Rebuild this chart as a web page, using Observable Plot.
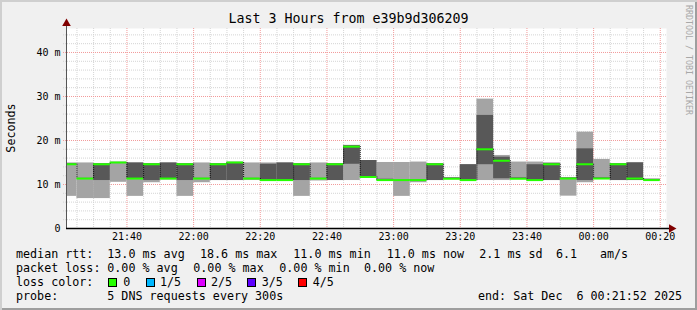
<!DOCTYPE html>
<html><head><meta charset="utf-8">
<script src="https://cdn.jsdelivr.net/npm/d3@7"></script>
<script src="https://cdn.jsdelivr.net/npm/@observablehq/plot@0.6"></script>
<style>
body{margin:0;background:#fff;}
#chart{position:relative;width:697px;height:310px;background:#f0f0f0;box-shadow:inset 2px 2px 0 #cfcfcf, inset -2px -2px 0 #9e9e9e;font-family:"DejaVu Sans Mono",monospace;color:#000;overflow:hidden;}
.t{position:absolute;white-space:pre;font-size:11.7px;line-height:14px;}
.box{position:absolute;width:7px;height:7px;border:1px solid #000;}
#plot{position:absolute;left:0;top:0;}
#title{position:absolute;left:0;width:697px;top:11px;text-align:center;font-size:13.3px;line-height:16px;white-space:pre;}
#ylab{position:absolute;left:10.5px;top:128px;transform:translate(-50%,-50%) rotate(-90deg);font-size:11.7px;white-space:pre;}
#side{position:absolute;left:684px;top:5px;writing-mode:vertical-rl;font-size:8.3px;color:#a8a8a8;white-space:pre;letter-spacing:0px;}
</style></head>
<body>
<div id="chart">
  <div id="plot"></div>
  <div id="title"></div>
  <div id="ylab"></div>
  <div id="side"></div>
</div>
<script>
// ---- data ----
const titleText = "Last 3 Hours from e39b9d306209";
const yLabel = "Seconds";
const sideText = "RRDTOOL / TOBI OETIKER";
const rangeStart = "2025-12-05T21:21:52Z";
const rangeEnd = "2025-12-06T00:21:52Z";
const slotMinutes = 5;
const slotStart = ["21:20","21:25","21:30","21:35","21:40","21:45","21:50","21:55",
  "22:00","22:05","22:10","22:15","22:20","22:25","22:30","22:35","22:40","22:45","22:50","22:55",
  "23:00","23:05","23:10","23:15","23:20","23:25","23:30","23:35","23:40","23:45","23:50","23:55",
  "00:00","00:05","00:10","00:15"];
// sorted ping rtts (ms) per slot: lowest, 2nd, median, 4th, highest
const ping1  = [7.3,6.8,6.8,10.5,7.3,10.4,11.0,7.3,10.4,10.9,10.9,10.9,10.8,10.8,7.3,10.8,10.9,10.9,11.6,10.9,7.3,10.4,10.9,11.1,10.9,10.9,10.9,11.2,10.8,10.9,7.35,10.4,11.2,10.9,10.9,10.9];
const ping2  = [14.5,11.3,10.9,14.9,11.2,10.9,11.2,10.9,11.3,10.9,10.9,11.3,10.9,10.9,10.9,11.3,10.9,14.6,11.65,10.95,10.95,10.9,10.9,11.2,10.95,14.5,11.3,11.25,10.9,10.9,11.2,10.9,11.3,10.9,10.9,10.95];
const median = [14.6,11.35,14.6,15.0,11.35,14.6,11.35,14.6,11.35,14.6,15.0,11.35,11.0,11.0,14.6,11.35,14.6,18.6,11.7,11.0,11.0,11.0,14.6,11.3,11.0,18.0,15.4,11.3,11.0,14.6,11.35,14.6,11.35,14.6,11.35,11.0];
const ping4  = [14.7,11.4,14.7,15.0,14.9,14.7,14.9,14.7,11.4,14.7,15.0,11.4,14.6,14.9,14.7,11.4,14.7,18.8,15.45,11.2,11.05,11.05,14.7,11.5,14.5,25.7,16.2,11.5,14.5,14.8,11.5,18.1,11.5,14.7,14.9,11.2];
const ping5  = [14.9,14.9,14.7,15.1,14.9,14.7,14.9,14.7,14.9,14.7,15.1,14.9,14.9,14.9,14.7,14.9,14.7,18.9,15.45,15.0,15.0,15.1,14.7,11.5,14.5,29.4,16.6,15.1,15.1,14.9,11.5,21.9,15.7,14.7,15.0,11.2];
const yTickValues = [0,10,20,30,40];
const yTop = 45.45;
const lossLabels = ["0","1/5","2/5","3/5","4/5"];
const lossColors = ["#26ff00","#00b8ff","#dd00ff","#5e00ff","#ff0000"];
const legendLines = [
  [["median rtt:",16],["13.0 ms avg",107.3],["18.6 ms max",200],["11.0 ms min",293.3],["11.0 ms now",386.7],["2.1 ms sd",479.3],["6.1",556],["am/s",600]],
  [["packet loss:",16],["0.00 % avg",107.3],["0.00 % max",193.3],["0.00 % min",279.3],["0.00 % now",364]],
  [["loss color:",16]],
  [["probe:",16],["5 DNS requests every 300s",107.3],["end: Sat Dec  6 00:21:52 2025",478]]
];
const lossBoxX = [108.3,145.7,196.7,247.3,298.3];
const lossTextX = [123.3,160,211,261.7,312.7];
const lineCenters = [254.3,268.3,282,296];

// ---- build ----
const t0 = new Date(rangeStart), t1 = new Date(rangeEnd);
function slotDate(s){
  const [h,m] = s.split(":").map(Number);
  const day = h < 12 ? "2025-12-06" : "2025-12-05";
  return new Date(`${day}T${s}:00Z`);
}
const bars = slotStart.map((s,i) => {
  const a = slotDate(s);
  const b = new Date(+a + slotMinutes*60000);
  return {x1: a < t0 ? t0 : a, x2: b > t1 ? t1 : b, p1: ping1[i], p2: ping2[i], med: median[i], p4: ping4[i], p5: ping5[i]};
});
const steps = [];
for (let i = 0; i < bars.length - 1; i++) steps.push({x: bars[i].x2, a: bars[i].med, b: bars[i+1].med});

const xMajor = d3.utcMinute.every(20).range(t0, t1);
const xMinor = d3.utcMinute.every(5).range(t0, t1).filter(d => d.getUTCMinutes() % 20 !== 0);
const yMajor = d3.range(10, yTop, 10);
const yMinor = d3.range(2, yTop, 2).filter(v => v % 10 !== 0);

const chart = Plot.plot({
  width: 697, height: 245,
  marginLeft: 66, marginRight: 31, marginTop: 28, marginBottom: 17,
  style: {background: "transparent", fontFamily: "DejaVu Sans Mono", fontSize: "10px", color: "#000", overflow: "visible"},
  x: {type: "utc", domain: [t0, t1]},
  y: {domain: [0, yTop]},
  marks: [
    Plot.frame({fill: "#fff", stroke: null}),
    Plot.ruleY(yMinor, {stroke: "#d4d4d4", strokeDasharray: "1,1", insetLeft: -3}),
    Plot.ruleX(xMinor, {stroke: "#d4d4d4", strokeDasharray: "1,1"}),
    Plot.ruleY(yMajor, {stroke: "#f29a9a", strokeDasharray: "1,1", insetLeft: -3}),
    Plot.ruleX(xMajor, {stroke: "#f29a9a", strokeDasharray: "1,1"}),
    Plot.rect(bars, {x1: "x1", x2: "x2", y1: "p1", y2: "p5", fill: "#a4a4a4"}),
    Plot.rect(bars, {x1: "x1", x2: "x2", y1: "p2", y2: "p4", fill: "#585858"}),
    Plot.ruleX(steps, {x: "x", y1: "a", y2: "b", stroke: "#111", strokeDasharray: "1,1"}),
    Plot.ruleY(bars, {x1: "x1", x2: "x2", y: "med", stroke: lossColors[0], strokeWidth: 2}),
    Plot.ruleX([t0], {stroke: "#555", insetTop: -4}),
    Plot.ruleY([0], {stroke: "#000", strokeWidth: 1.5, insetRight: -4}),
    Plot.dot([0], {frameAnchor: "top-left", dy: -5, symbol: "triangle", r: 3.2, fill: "#800000", stroke: null}),
    Plot.dot([0], {frameAnchor: "bottom-right", dx: 5, rotate: 90, symbol: "triangle", r: 3.2, fill: "#800000", stroke: null}),
    Plot.axisX(xMajor, {tickFormat: d3.utcFormat("%H:%M"), tickSize: 0, tickPadding: 4, label: null, fill: "#000"}),
    Plot.axisY(yTickValues, {tickFormat: d => d === 0 ? "0" : `${d} m`, tickSize: 0, tickPadding: 6, label: null, fill: "#000"})
  ]
});
document.getElementById("plot").appendChild(chart);
document.getElementById("title").textContent = titleText;
document.getElementById("ylab").textContent = yLabel;
document.getElementById("side").textContent = sideText;

const root = document.getElementById("chart");
legendLines.forEach((tokens, li) => {
  tokens.forEach(([txt, x]) => {
    const d = document.createElement("div");
    d.className = "t"; d.textContent = txt;
    d.style.left = x + "px"; d.style.top = (lineCenters[li] - 7) + "px";
    root.appendChild(d);
  });
});
lossLabels.forEach((lab, i) => {
  const b = document.createElement("div");
  b.className = "box"; b.style.background = lossColors[i];
  b.style.left = lossBoxX[i] + "px"; b.style.top = (lineCenters[2] - 4.5) + "px";
  root.appendChild(b);
  const d = document.createElement("div");
  d.className = "t"; d.textContent = lab;
  d.style.left = lossTextX[i] + "px"; d.style.top = (lineCenters[2] - 7) + "px";
  root.appendChild(d);
});
</script>
</body></html>
